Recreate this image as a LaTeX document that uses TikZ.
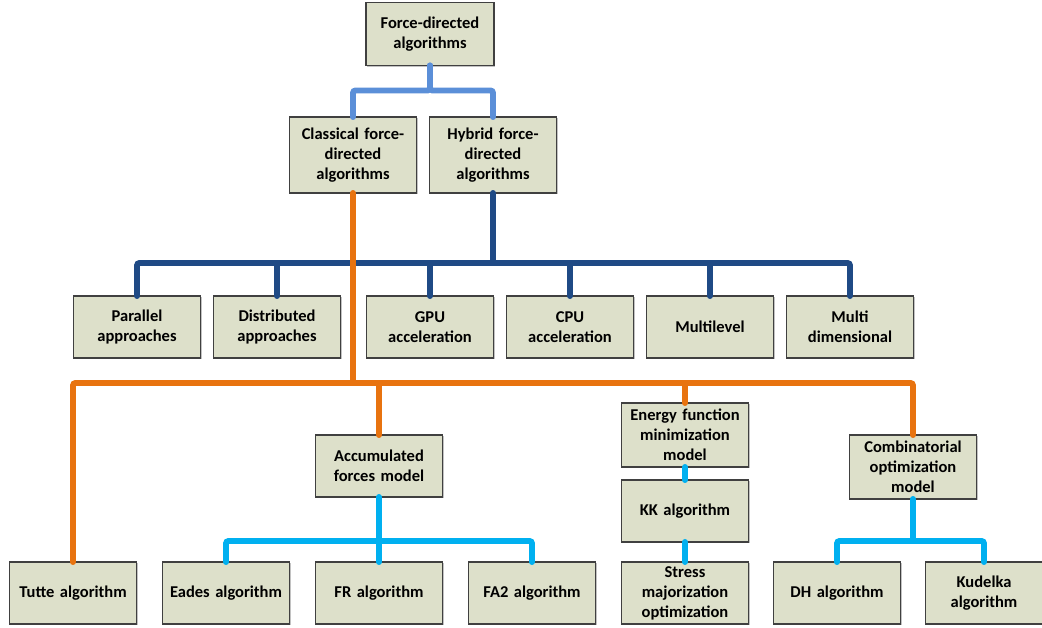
\documentclass[tikz,border=0pt]{standalone}
\usepackage{fontspec}
\setmainfont{Carlito}
\usepackage{xcolor}
\usetikzlibrary{positioning,shadows}

\definecolor{boxfill}{HTML}{DDE0CA}
\definecolor{toplink}{HTML}{5B8FD8}
\definecolor{navylink}{HTML}{1F4A85}
\definecolor{orangelink}{HTML}{E8730F}
\definecolor{cyanlink}{HTML}{00B0F0}

\begin{document}
\begin{tikzpicture}[x=0.02cm, y=-0.02cm,
    box/.style={rectangle, draw=black!75, line width=0.7pt, fill=boxfill, text width=2.4cm, align=center, minimum width=2.54cm, minimum height=1.24cm, inner sep=2pt, outer sep=0pt, font=\bfseries\fontsize{9.4}{11.4}\selectfont, drop shadow={shadow xshift=0.7pt, shadow yshift=-0.7pt, fill=black!40, opacity=0.6}},
    tall/.style={box, minimum height=1.52cm},
    mid/.style={box, minimum height=1.28cm},
    link/.style={line width=3.4pt, line cap=round, rounded corners=1.5pt}]

    \useasboundingbox (0,0) rectangle (1042,628);

    % Root and first split
    \node [box, minimum width=2.56cm, minimum height=1.26cm] (fda) at (430,34) {Force-directed\\algorithms};
    \node [tall] (cfd) at (353,155) {Classical force-\\directed\\algorithms};
    \node [tall] (hfd) at (493,155) {Hybrid force-\\directed\\algorithms};

    % Hybrid branch
    \node [box] (par) at (137,327) {Parallel\\approaches};
    \node [box] (dis) at (277,327) {Distributed\\approaches};
    \node [box] (gpu) at (430,327) {GPU\\acceleration};
    \node [box] (cpu) at (570,327) {CPU\\acceleration};
    \node [box] (mlv) at (710,327) {Multilevel};
    \node [box] (mdim) at (850,327) {Multi\\dimensional};

    % Classical branch
    \node [box] (afm) at (379,466) {Accumulated\\forces model};
    \node [mid] (efm) at (685,435) {Energy function\\minimization\\model};
    \node [box, below=0.26cm of efm] (kk) {KK algorithm};
    \node [box, below=0.4cm of kk] (smo) {Stress\\majorization\\optimization};
    \node [mid] (com) at (913,467) {Combinatorial\\optimization\\model};

    % Leaves
    \node [box] (tutte) at (73,593) {Tutte algorithm};
    \node [box] (eades) at (226,593) {Eades algorithm};
    \node [box] (fr) at (379,593) {FR algorithm};
    \node [box] (fa2) at (532,593) {FA2 algorithm};
    \node [box] (dh) at (837,593) {DH algorithm};
    \node [box, minimum width=2.28cm, text width=2.2cm] (kud) at (984,593) {Kudelka\\algorithm};

    % Root links
    \draw [link, toplink] (fda.south) -- ++(0,25) -| (cfd.north);
    \draw [link, toplink] (fda.south) -- ++(0,25) -| (hfd.north);

    % Hybrid links
    \draw [link, navylink] (hfd.south) -- ++(0,70) coordinate (hbus);
    \foreach \n in {par,dis,gpu,cpu,mlv,mdim}
        \draw [link, navylink] (hbus) -| (\n.north);

    % Classical links
    \draw [link, orangelink] (cfd.south) -- ++(0,190) coordinate (cbus);
    \foreach \n in {tutte,afm,efm,com}
        \draw [link, orangelink] (cbus) -| (\n.north);

    % Model links
    \draw [link, cyanlink] (afm.south) -- ++(0,44) coordinate (abus);
    \foreach \n in {eades,fr,fa2}
        \draw [link, cyanlink] (abus) -| (\n.north);
    \draw [link, cyanlink] (efm) -- (kk);
    \draw [link, cyanlink] (kk) -- (smo);
    \draw [link, cyanlink] (com.south) -- ++(0,42) coordinate (obus);
    \foreach \n in {dh,kud}
        \draw [link, cyanlink] (obus) -| (\n.north);

\end{tikzpicture}
\end{document}
